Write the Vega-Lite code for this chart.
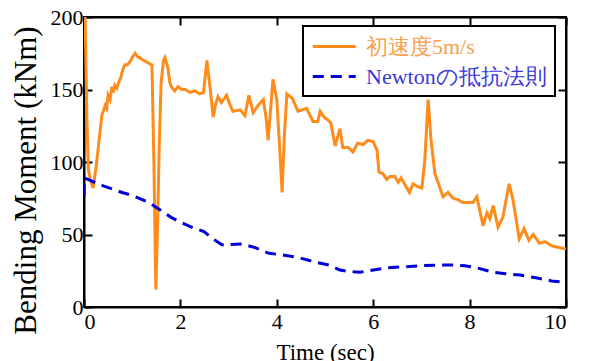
{
  "$schema": "https://vega.github.io/schema/vega-lite/v6.json",
  "width": 482,
  "height": 290,
  "autosize": "none",
  "padding": {"left": 84, "top": 17, "right": 25, "bottom": 54},
  "background": "white",
  "config": {
    "font": "Liberation Serif",
    "view": {"stroke": "black", "strokeWidth": 2},
    "axis": {
      "labelFont": "Liberation Serif",
      "labelFontSize": 22,
      "labelColor": "black",
      "titleFont": "Liberation Serif",
      "titleColor": "black",
      "titleFontWeight": "normal",
      "domainColor": "black",
      "domainWidth": 2,
      "tickColor": "black",
      "tickWidth": 2,
      "tickSize": -8,
      "grid": false
    }
  },
  "data": {"values": [
    {"t": 0.02, "m": 205, "s": "初速度5m/s"},
    {"t": 0.06, "m": 130, "s": "初速度5m/s"},
    {"t": 0.09, "m": 95, "s": "初速度5m/s"},
    {"t": 0.13, "m": 88, "s": "初速度5m/s"},
    {"t": 0.19, "m": 82, "s": "初速度5m/s"},
    {"t": 0.25, "m": 96, "s": "初速度5m/s"},
    {"t": 0.31, "m": 114, "s": "初速度5m/s"},
    {"t": 0.37, "m": 132, "s": "初速度5m/s"},
    {"t": 0.44, "m": 139, "s": "初速度5m/s"},
    {"t": 0.47, "m": 137, "s": "初速度5m/s"},
    {"t": 0.5, "m": 146, "s": "初速度5m/s"},
    {"t": 0.54, "m": 143, "s": "初速度5m/s"},
    {"t": 0.58, "m": 152, "s": "初速度5m/s"},
    {"t": 0.61, "m": 148, "s": "初速度5m/s"},
    {"t": 0.64, "m": 153, "s": "初速度5m/s"},
    {"t": 0.68, "m": 151, "s": "初速度5m/s"},
    {"t": 0.72, "m": 155, "s": "初速度5m/s"},
    {"t": 0.76, "m": 158, "s": "初速度5m/s"},
    {"t": 0.79, "m": 162, "s": "初速度5m/s"},
    {"t": 0.82, "m": 165, "s": "初速度5m/s"},
    {"t": 0.85, "m": 167, "s": "初速度5m/s"},
    {"t": 0.9, "m": 167, "s": "初速度5m/s"},
    {"t": 0.95, "m": 169, "s": "初速度5m/s"},
    {"t": 1.0, "m": 172, "s": "初速度5m/s"},
    {"t": 1.06, "m": 175, "s": "初速度5m/s"},
    {"t": 1.1, "m": 173, "s": "初速度5m/s"},
    {"t": 1.14, "m": 172, "s": "初速度5m/s"},
    {"t": 1.2, "m": 171, "s": "初速度5m/s"},
    {"t": 1.24, "m": 170, "s": "初速度5m/s"},
    {"t": 1.3, "m": 169, "s": "初速度5m/s"},
    {"t": 1.35, "m": 168, "s": "初速度5m/s"},
    {"t": 1.41, "m": 167, "s": "初速度5m/s"},
    {"t": 1.45, "m": 100, "s": "初速度5m/s"},
    {"t": 1.49, "m": 12, "s": "初速度5m/s"},
    {"t": 1.53, "m": 60, "s": "初速度5m/s"},
    {"t": 1.56, "m": 110, "s": "初速度5m/s"},
    {"t": 1.6, "m": 155, "s": "初速度5m/s"},
    {"t": 1.65, "m": 170, "s": "初速度5m/s"},
    {"t": 1.68, "m": 172, "s": "初速度5m/s"},
    {"t": 1.74, "m": 165, "s": "初速度5m/s"},
    {"t": 1.78, "m": 155, "s": "初速度5m/s"},
    {"t": 1.81, "m": 152, "s": "初速度5m/s"},
    {"t": 1.88, "m": 149, "s": "初速度5m/s"},
    {"t": 1.95, "m": 152, "s": "初速度5m/s"},
    {"t": 2.03, "m": 150, "s": "初速度5m/s"},
    {"t": 2.1, "m": 150, "s": "初速度5m/s"},
    {"t": 2.2, "m": 148, "s": "初速度5m/s"},
    {"t": 2.3, "m": 149, "s": "初速度5m/s"},
    {"t": 2.4, "m": 147, "s": "初速度5m/s"},
    {"t": 2.48, "m": 148, "s": "初速度5m/s"},
    {"t": 2.55, "m": 170, "s": "初速度5m/s"},
    {"t": 2.62, "m": 150, "s": "初速度5m/s"},
    {"t": 2.68, "m": 131, "s": "初速度5m/s"},
    {"t": 2.73, "m": 140, "s": "初速度5m/s"},
    {"t": 2.78, "m": 145, "s": "初速度5m/s"},
    {"t": 2.85, "m": 141, "s": "初速度5m/s"},
    {"t": 2.96, "m": 146, "s": "初速度5m/s"},
    {"t": 3.02, "m": 140, "s": "初速度5m/s"},
    {"t": 3.09, "m": 135, "s": "初速度5m/s"},
    {"t": 3.24, "m": 136, "s": "初速度5m/s"},
    {"t": 3.34, "m": 132, "s": "初速度5m/s"},
    {"t": 3.42, "m": 146, "s": "初速度5m/s"},
    {"t": 3.51, "m": 134, "s": "初速度5m/s"},
    {"t": 3.61, "m": 139, "s": "初速度5m/s"},
    {"t": 3.72, "m": 143, "s": "初速度5m/s"},
    {"t": 3.78, "m": 130, "s": "初速度5m/s"},
    {"t": 3.82, "m": 115, "s": "初速度5m/s"},
    {"t": 3.92, "m": 157, "s": "初速度5m/s"},
    {"t": 4.0, "m": 143, "s": "初速度5m/s"},
    {"t": 4.06, "m": 110, "s": "初速度5m/s"},
    {"t": 4.11, "m": 79, "s": "初速度5m/s"},
    {"t": 4.16, "m": 120, "s": "初速度5m/s"},
    {"t": 4.21, "m": 147, "s": "初速度5m/s"},
    {"t": 4.32, "m": 144, "s": "初速度5m/s"},
    {"t": 4.44, "m": 135, "s": "初速度5m/s"},
    {"t": 4.62, "m": 137, "s": "初速度5m/s"},
    {"t": 4.75, "m": 128, "s": "初速度5m/s"},
    {"t": 4.85, "m": 128, "s": "初速度5m/s"},
    {"t": 4.9, "m": 135, "s": "初速度5m/s"},
    {"t": 4.98, "m": 131, "s": "初速度5m/s"},
    {"t": 5.06, "m": 129, "s": "初速度5m/s"},
    {"t": 5.12, "m": 127, "s": "初速度5m/s"},
    {"t": 5.21, "m": 111, "s": "初速度5m/s"},
    {"t": 5.31, "m": 123, "s": "初速度5m/s"},
    {"t": 5.37, "m": 110, "s": "初速度5m/s"},
    {"t": 5.48, "m": 110, "s": "初速度5m/s"},
    {"t": 5.58, "m": 107, "s": "初速度5m/s"},
    {"t": 5.68, "m": 113, "s": "初速度5m/s"},
    {"t": 5.79, "m": 112, "s": "初速度5m/s"},
    {"t": 5.89, "m": 115, "s": "初速度5m/s"},
    {"t": 6.0, "m": 114, "s": "初速度5m/s"},
    {"t": 6.08, "m": 108, "s": "初速度5m/s"},
    {"t": 6.12, "m": 93, "s": "初速度5m/s"},
    {"t": 6.2, "m": 92, "s": "初速度5m/s"},
    {"t": 6.28, "m": 88, "s": "初速度5m/s"},
    {"t": 6.35, "m": 90, "s": "初速度5m/s"},
    {"t": 6.45, "m": 90, "s": "初速度5m/s"},
    {"t": 6.52, "m": 86, "s": "初速度5m/s"},
    {"t": 6.58, "m": 89, "s": "初速度5m/s"},
    {"t": 6.75, "m": 79, "s": "初速度5m/s"},
    {"t": 6.83, "m": 85, "s": "初速度5m/s"},
    {"t": 6.92, "m": 83, "s": "初速度5m/s"},
    {"t": 7.01, "m": 82, "s": "初速度5m/s"},
    {"t": 7.07, "m": 101, "s": "初速度5m/s"},
    {"t": 7.14, "m": 143, "s": "初速度5m/s"},
    {"t": 7.2, "m": 115, "s": "初速度5m/s"},
    {"t": 7.28, "m": 92, "s": "初速度5m/s"},
    {"t": 7.45, "m": 76, "s": "初速度5m/s"},
    {"t": 7.55, "m": 79, "s": "初速度5m/s"},
    {"t": 7.66, "m": 75, "s": "初速度5m/s"},
    {"t": 7.76, "m": 74, "s": "初速度5m/s"},
    {"t": 7.86, "m": 72, "s": "初速度5m/s"},
    {"t": 8.07, "m": 72, "s": "初速度5m/s"},
    {"t": 8.15, "m": 76, "s": "初速度5m/s"},
    {"t": 8.28, "m": 56, "s": "初速度5m/s"},
    {"t": 8.36, "m": 65, "s": "初速度5m/s"},
    {"t": 8.42, "m": 61, "s": "初速度5m/s"},
    {"t": 8.49, "m": 70, "s": "初速度5m/s"},
    {"t": 8.59, "m": 55, "s": "初速度5m/s"},
    {"t": 8.69, "m": 62, "s": "初速度5m/s"},
    {"t": 8.82, "m": 85, "s": "初速度5m/s"},
    {"t": 8.9, "m": 74, "s": "初速度5m/s"},
    {"t": 9.03, "m": 47, "s": "初速度5m/s"},
    {"t": 9.13, "m": 54, "s": "初速度5m/s"},
    {"t": 9.23, "m": 46, "s": "初速度5m/s"},
    {"t": 9.32, "m": 50, "s": "初速度5m/s"},
    {"t": 9.45, "m": 44, "s": "初速度5m/s"},
    {"t": 9.57, "m": 45, "s": "初速度5m/s"},
    {"t": 9.72, "m": 42, "s": "初速度5m/s"},
    {"t": 9.86, "m": 41, "s": "初速度5m/s"},
    {"t": 10.0, "m": 40, "s": "初速度5m/s"},
    {"t": 0.0, "m": 77, "s": "Newtonの抵抗法則"},
    {"t": 0.01, "m": 89, "s": "Newtonの抵抗法則"},
    {"t": 0.15, "m": 87, "s": "Newtonの抵抗法則"},
    {"t": 0.4, "m": 83.5, "s": "Newtonの抵抗法則"},
    {"t": 0.79, "m": 79, "s": "Newtonの抵抗法則"},
    {"t": 1.0, "m": 77, "s": "Newtonの抵抗法則"},
    {"t": 1.35, "m": 72, "s": "Newtonの抵抗法則"},
    {"t": 1.62, "m": 66, "s": "Newtonの抵抗法則"},
    {"t": 1.8, "m": 62, "s": "Newtonの抵抗法則"},
    {"t": 1.97, "m": 59, "s": "Newtonの抵抗法則"},
    {"t": 2.24, "m": 55, "s": "Newtonの抵抗法則"},
    {"t": 2.49, "m": 52, "s": "Newtonの抵抗法則"},
    {"t": 2.6, "m": 49, "s": "Newtonの抵抗法則"},
    {"t": 2.72, "m": 46, "s": "Newtonの抵抗法則"},
    {"t": 2.86, "m": 43, "s": "Newtonの抵抗法則"},
    {"t": 3.0, "m": 43, "s": "Newtonの抵抗法則"},
    {"t": 3.28, "m": 43.5, "s": "Newtonの抵抗法則"},
    {"t": 3.55, "m": 41, "s": "Newtonの抵抗法則"},
    {"t": 3.84, "m": 37, "s": "Newtonの抵抗法則"},
    {"t": 4.11, "m": 36, "s": "Newtonの抵抗法則"},
    {"t": 4.46, "m": 34, "s": "Newtonの抵抗法則"},
    {"t": 4.79, "m": 31, "s": "Newtonの抵抗法則"},
    {"t": 5.08, "m": 29, "s": "Newtonの抵抗法則"},
    {"t": 5.31, "m": 25.5, "s": "Newtonの抵抗法則"},
    {"t": 5.5, "m": 24.5, "s": "Newtonの抵抗法則"},
    {"t": 5.73, "m": 24, "s": "Newtonの抵抗法則"},
    {"t": 6.0, "m": 25.5, "s": "Newtonの抵抗法則"},
    {"t": 6.29, "m": 27, "s": "Newtonの抵抗法則"},
    {"t": 6.76, "m": 28, "s": "Newtonの抵抗法則"},
    {"t": 7.0, "m": 28.5, "s": "Newtonの抵抗法則"},
    {"t": 7.39, "m": 29, "s": "Newtonの抵抗法則"},
    {"t": 7.66, "m": 29, "s": "Newtonの抵抗法則"},
    {"t": 7.9, "m": 28.5, "s": "Newtonの抵抗法則"},
    {"t": 8.15, "m": 27, "s": "Newtonの抵抗法則"},
    {"t": 8.49, "m": 24, "s": "Newtonの抵抗法則"},
    {"t": 8.75, "m": 23, "s": "Newtonの抵抗法則"},
    {"t": 9.05, "m": 22, "s": "Newtonの抵抗法則"},
    {"t": 9.4, "m": 20, "s": "Newtonの抵抗法則"},
    {"t": 9.7, "m": 18, "s": "Newtonの抵抗法則"},
    {"t": 10.0, "m": 17, "s": "Newtonの抵抗法則"}
  ]},
  "layer": [
    {
      "mark": {"type": "line", "opacity": 0, "clip": true},
      "encoding": {
        "x": {"field": "t", "type": "quantitative", "scale": {"domain": [0, 10], "nice": false},
              "axis": {"orient": "top", "labels": false, "title": null, "values": [0, 2, 4, 6, 8, 10]}},
        "y": {"field": "m", "type": "quantitative", "scale": {"domain": [0, 200], "nice": false},
              "axis": {"orient": "right", "labels": false, "title": null, "values": [0, 50, 100, 150, 200]}},
        "detail": {"field": "s"}
      }
    },
    {
      "mark": {"type": "line", "strokeWidth": 3, "clip": true},
      "encoding": {
        "x": {"field": "t", "type": "quantitative", "scale": {"domain": [0, 10], "nice": false},
              "axis": {"orient": "bottom", "values": [0, 2, 4, 6, 8, 10], "labelFlush": true, "labelPadding": 12,
                       "title": "Time (sec)", "titleFontSize": 23, "titlePadding": 0, "titleBaseline": "top", "titleY": 34}},
        "y": {"field": "m", "type": "quantitative", "scale": {"domain": [0, 200], "nice": false},
              "axis": {"orient": "left", "values": [0, 50, 100, 150, 200], "labelPadding": 9,
                       "title": "Bending Moment (kNm)", "titleFontSize": 31, "titleAngle": 270,
                       "titleAlign": "center", "titleBaseline": "middle", "titleX": -58, "titleY": 163}},
        "color": {"field": "s", "type": "nominal",
                  "scale": {"domain": ["初速度5m/s", "Newtonの抵抗法則"], "range": ["#ff8c1a", "#0000d8"]},
                  "legend": {
                    "title": null, "orient": "none", "legendX": 219, "legendY": 9,
                    "symbolType": "M-1,0L3,0", "symbolSize": 462, "symbolStrokeWidth": 3,
                    "labelFont": "Liberation Serif", "labelFontSize": 22, "labelOffset": 30, "labelLimit": 400,
                    "padding": 8, "rowPadding": 6, "strokeColor": "black", "fillColor": "white",
                    "encode": {
                      "legend": {"update": {"strokeWidth": {"value": 2}}},
                      "labels": {"update": {"fill": {"signal": "datum.value === '初速度5m/s' ? '#f7a14f' : '#3a3ad8'"}}}
                    }
                  }},
        "strokeDash": {"field": "s", "type": "nominal",
                       "scale": {"domain": ["初速度5m/s", "Newtonの抵抗法則"], "range": [[1, 0], [11, 7]]},
                       "legend": null}
      }
    }
  ]
}
